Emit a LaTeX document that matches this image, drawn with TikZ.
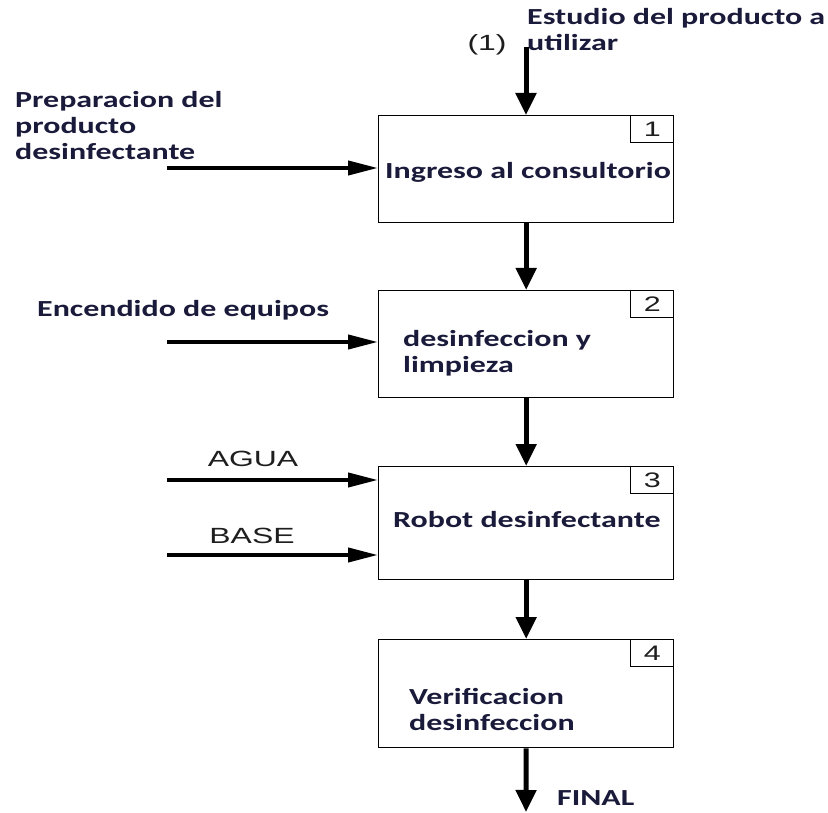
\documentclass[tikz,border=0pt]{standalone}
\usepackage{fontspec}
\setmainfont{Carlito}[FakeStretch=1.39]
\newfontfamily\arialf{Liberation Sans}[FakeStretch=1.45]
\usetikzlibrary{arrows.meta}
\definecolor{ink}{HTML}{1A1A3A}
\definecolor{gr}{HTML}{1E1E1E}

\begin{document}
\begin{tikzpicture}[x=1pt,y=-1pt,
  proc/.style={draw=black, line width=1.4pt, minimum width=295pt, inner sep=0pt, anchor=north west},
  numbox/.style={draw=black, line width=1.2pt, minimum width=43pt, minimum height=27pt, inner sep=0pt,
    anchor=north east, text=gr, font=\arialf\fontsize{21}{21}\selectfont},
  lbl/.style={inner sep=0pt, text=ink, font=\bfseries\fontsize{23}{26}\selectfont, align=left, anchor=west},
  plain/.style={inner sep=0pt, text=gr, font=\arialf\fontsize{22}{22}\selectfont},
  vflow/.style={line width=5pt, -{Triangle[width=20pt,length=22pt]}},
  hflow/.style={line width=4pt, -{Triangle[width=14pt,length=30pt]}},
]
\fill[white] (0,0) rectangle (828,813);
\useasboundingbox (0,0) rectangle (828,813);

% process boxes
\node[proc, minimum height=107pt] (b1) at (378,115) {};
\node[proc, minimum height=107pt] (b2) at (378,290) {};
\node[proc, minimum height=113pt] (b3) at (378,466) {};
\node[proc, minimum height=108pt] (b4) at (378,639) {};

% box numbers
\node[numbox] (n1) at (b1.north east) {1};
\node[numbox] (n2) at (b2.north east) {2};
\node[numbox] (n3) at (b3.north east) {3};
\node[numbox] (n4) at (b4.north east) {4};

% box texts
\node[lbl] (t1) at (385,172) {Ingreso al consultorio};
\node[lbl] (t2) at (403,353) {desinfeccion y\\limpieza};
\node[lbl] (t3) at (393,520) {Robot desinfectante};
\node[lbl] (t4) at (409,709) {Verificacion\\desinfeccion};

% main flow
\coordinate (s0) at (526,47);
\draw[vflow] (s0) -- (s0 |- b1.north);
\draw[vflow] (b1.south) -- (b2.north);
\draw[vflow] (b2.south) -- (b3.north);
\draw[vflow] (b3.south) -- (b4.north);
\coordinate (fin) at (526,812);
\draw[vflow] (b4.south) -- (fin);

% side inputs
\coordinate (i1) at (167,168);
\coordinate (i2) at (167,342);
\coordinate (i3) at (167,480);
\coordinate (i4) at (167,555);
\draw[hflow] (i1) -- (i1 -| b1.west);
\draw[hflow] (i2) -- (i2 -| b2.west);
\draw[hflow] (i3) -- (i3 -| b3.west);
\draw[hflow] (i4) -- (i4 -| b3.west);

% labels
\node[lbl] (lEst) at (527,30) {Estudio del producto a\\utilizar};
\node[plain] (lOne) at (487,45) {(1)};
\node[lbl] (lPrep) at (15,126) {Preparacion del\\producto\\desinfectante};
\node[lbl] (lEnc) at (37,310) {Encendido de equipos};
\node[plain] (lAgua) at (253,459) {AGUA};
\node[plain] (lBase) at (252,536) {BASE};
\node[lbl] (lFin) at (557,798) {FINAL};
\end{tikzpicture}
\end{document}
